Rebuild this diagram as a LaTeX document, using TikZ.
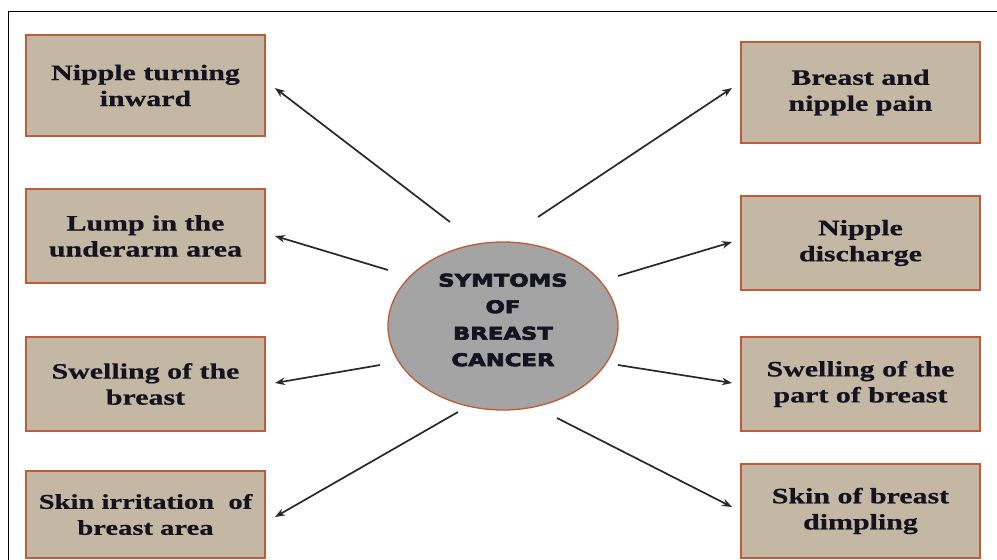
\documentclass[tikz,border=0pt]{standalone}
\usepackage{fontspec}
\setmainfont{Liberation Serif}
\newfontfamily\boxfont[FakeStretch=1.36,FakeBold=0.7]{Liberation Serif}
\newfontfamily\centerfont[FakeStretch=1.3,FakeBold=4]{DejaVu Sans}
\usetikzlibrary{arrows.meta,shapes.geometric}
\definecolor{boxfill}{RGB}{196,184,164}
\definecolor{boxline}{RGB}{188,92,56}
\definecolor{ellfill}{RGB}{164,164,164}
\definecolor{txt}{RGB}{20,20,32}
\definecolor{arr}{RGB}{40,40,40}
\tikzset{
  symbox/.style={draw=boxline, line width=1.6pt, fill=boxfill, minimum width=239pt, align=center,
    font=\boxfont\bfseries\fontsize{22}{26}\selectfont, text=txt, inner sep=0pt},
  hub/.style={ellipse, draw=boxline, line width=1.3pt, fill=ellfill, minimum width=230pt, minimum height=168pt, inner sep=0pt},
  hubtext/.style={align=center, font=\centerfont\bfseries\fontsize{17.5}{26.5}\selectfont, text=txt, inner sep=0pt},
  link/.style={draw=arr, line width=1.7pt, -{Stealth[length=10pt,width=7.5pt]}}
}
\begin{document}
\begin{tikzpicture}[x=1pt,y=-1pt]
\useasboundingbox (0,0) rectangle (997,560);
\fill[white] (0,0) rectangle (997,560);
\draw[black, line width=1pt] (1010,11) -- (8.5,11) -- (8.5,570);
% hub
\node[hub] (c) at (503,326) {};
\node[hubtext] (ct) at (503,320) {SYMTOMS\\OF\\BREAST\\CANCER};
% left boxes
\node[symbox, minimum height=101pt] (l1) at (145.5,85.5) {Nipple turning\\inward};
\node[symbox, minimum height=94pt] (l2) at (145.5,236) {Lump in the\\underarm area};
\node[symbox, minimum height=94pt] (l3) at (145.5,384) {Swelling of the\\breast};
\node[symbox, minimum height=87pt, font=\boxfont\bfseries\fontsize{21}{26}\selectfont] (l4) at (145.5,514.5) {Skin irritation\ \ of\\breast area};
% right boxes
\node[symbox, minimum height=101pt] (r1) at (860.5,92.5) {Breast and\\nipple pain};
\node[symbox, minimum height=94pt] (r2) at (860.5,243) {Nipple\\discharge};
\node[symbox, minimum height=94pt] (r3) at (860.5,384) {Swelling of the\\part of breast};
\node[symbox, minimum height=94pt] (r4) at (860.5,511) {Skin of breast\\dimpling};
% arrow end points
\coordinate (s1) at (450,222); \coordinate (e1) at (275,88);
\coordinate (s2) at (388,270); \coordinate (e2) at (275,236);
\coordinate (s3) at (380,365); \coordinate (e3) at (275,383);
\coordinate (s4) at (458,412); \coordinate (e4) at (275,517);
\coordinate (s5) at (538,217); \coordinate (e5) at (732,88);
\coordinate (s6) at (618,276); \coordinate (e6) at (732,242);
\coordinate (s7) at (618,365); \coordinate (e7) at (732,383);
\coordinate (s8) at (557,418); \coordinate (e8) at (732,507);
\foreach \i in {1,...,8} {\draw[link] (s\i) -- (e\i);}
\end{tikzpicture}
\end{document}
